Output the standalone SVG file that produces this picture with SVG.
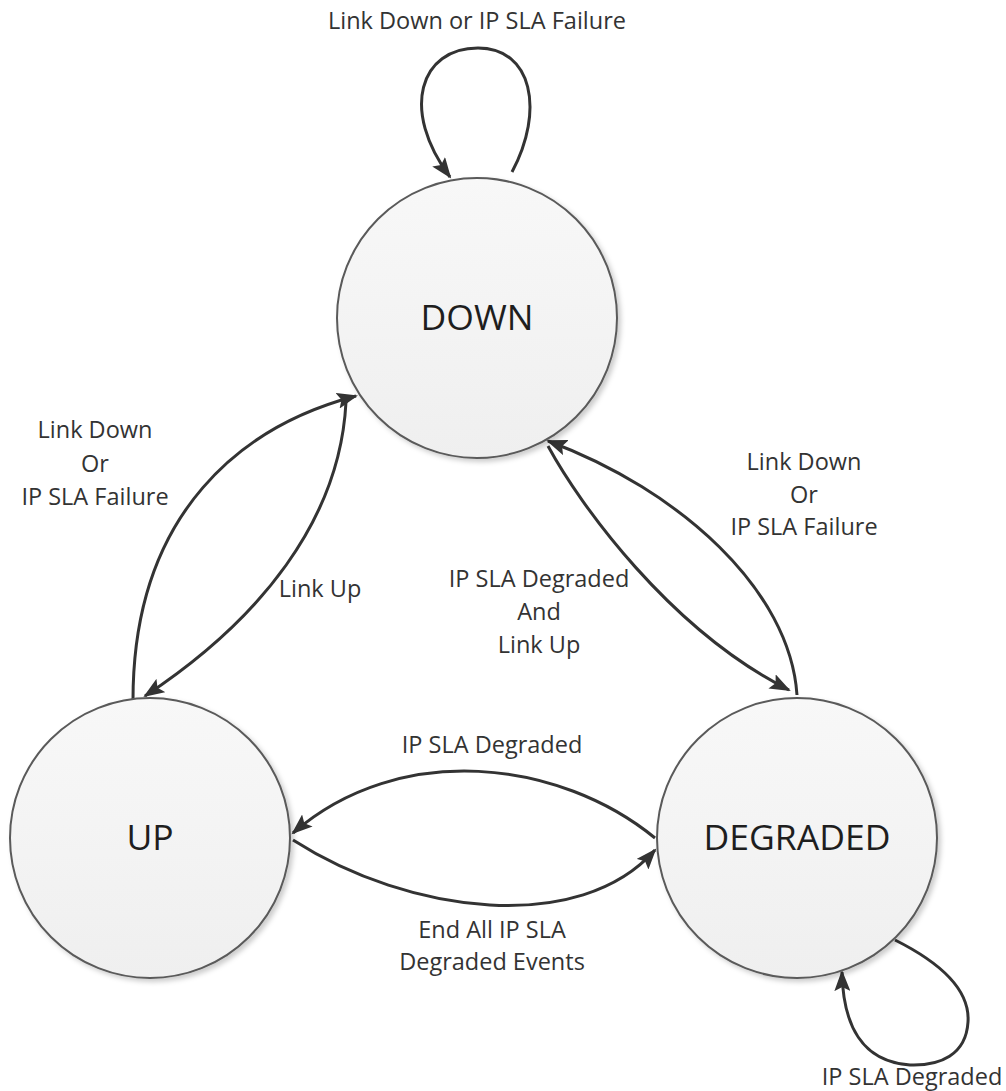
<svg xmlns="http://www.w3.org/2000/svg" width="1006" height="1091" viewBox="0 0 1006 1091">
  <style>
    .node { fill: url(#nodeFill); stroke: #5a5a5a; stroke-width: 2; filter: url(#shadow); }
    .ntext { font-family: "Open Sans", "Liberation Sans", sans-serif; font-size: 35.5px; fill: #1e1e1e; text-anchor: middle; }
    .edge { fill: none; stroke: #333; stroke-width: 3; }
    .lbl { font-family: "Open Sans", "Liberation Sans", sans-serif; font-size: 23.5px; fill: #333; text-anchor: middle; }
  </style>
  <defs>
    <linearGradient id="nodeFill" x1="0" y1="0" x2="0" y2="1">
      <stop offset="0" stop-color="#f8f8f8"/>
      <stop offset="1" stop-color="#efefef"/>
    </linearGradient>
    <filter id="shadow" x="-10%" y="-10%" width="125%" height="125%">
      <feDropShadow dx="3" dy="3" stdDeviation="2.5" flood-color="#000" flood-opacity="0.2"/>
    </filter>
    <marker id="arrow" markerUnits="userSpaceOnUse" markerWidth="22" markerHeight="16" refX="19" refY="8" orient="auto">
      <path d="M0,0 L21,8 L0,16 L4,8 z" fill="#333"/>
    </marker>
  </defs>
  <rect width="1006" height="1091" fill="#fff"/>

  <g id="connectors">
    <!-- DOWN self loop -->
    <path class="edge" d="M512 172 C 545 110, 532 48, 478 48 C 420 48, 400 110, 450 177" marker-end="url(#arrow)"/>
    <!-- UP -> DOWN (Link Down Or IP SLA Failure) -->
    <path class="edge" d="M133 700 C 133 510, 245 425, 356 396" marker-end="url(#arrow)"/>
    <!-- DOWN -> UP (Link Up) -->
    <path class="edge" d="M346 402 C 340 520, 260 620, 145 696" marker-end="url(#arrow)"/>
    <!-- DEGRADED -> DOWN (Link Down Or IP SLA Failure) -->
    <path class="edge" d="M797 695 C 790 590, 680 490, 548 441" marker-end="url(#arrow)"/>
    <!-- DOWN -> DEGRADED (IP SLA Degraded And Link Up) -->
    <path class="edge" d="M548 446 C 580 505, 670 630, 789 690" marker-end="url(#arrow)"/>
    <!-- DEGRADED -> UP (IP SLA Degraded) -->
    <path class="edge" d="M655 838 C 560 760, 400 740, 293 833" marker-end="url(#arrow)"/>
    <!-- UP -> DEGRADED (End All IP SLA Degraded Events) -->
    <path class="edge" d="M293 840 C 410 915, 580 935, 655 850" marker-end="url(#arrow)"/>
    <!-- DEGRADED self loop -->
    <path class="edge" d="M895 940 C 945 965, 970 992, 968 1022 C 966 1055, 940 1066, 910 1065 C 862 1062, 843 1025, 842 972" marker-end="url(#arrow)"/>
  </g>

  <g id="labels">
    <text class="lbl" x="477" y="29">Link Down or IP SLA Failure</text>
    <text class="lbl" x="95" y="438">Link Down</text>
    <text class="lbl" x="95" y="472">Or</text>
    <text class="lbl" x="95" y="505">IP SLA Failure</text>
    <text class="lbl" x="320" y="597">Link Up</text>
    <text class="lbl" x="804" y="470">Link Down</text>
    <text class="lbl" x="804" y="503">Or</text>
    <text class="lbl" x="804" y="535">IP SLA Failure</text>
    <text class="lbl" x="539" y="587">IP SLA Degraded</text>
    <text class="lbl" x="539" y="620">And</text>
    <text class="lbl" x="539" y="653">Link Up</text>
    <text class="lbl" x="492" y="753">IP SLA Degraded</text>
    <text class="lbl" x="492" y="938">End All IP SLA</text>
    <text class="lbl" x="492" y="970">Degraded Events</text>
    <text class="lbl" x="912" y="1085">IP SLA Degraded</text>
  </g>

  <g id="node-down">
    <circle class="node" cx="477" cy="318" r="140"/>
    <text class="ntext" x="477" y="330">DOWN</text>
  </g>
  <g id="node-up">
    <circle class="node" cx="150" cy="838" r="140"/>
    <text class="ntext" x="150" y="850">UP</text>
  </g>
  <g id="node-degraded">
    <circle class="node" cx="797" cy="838" r="140"/>
    <text class="ntext" x="797" y="850">DEGRADED</text>
  </g>
</svg>
